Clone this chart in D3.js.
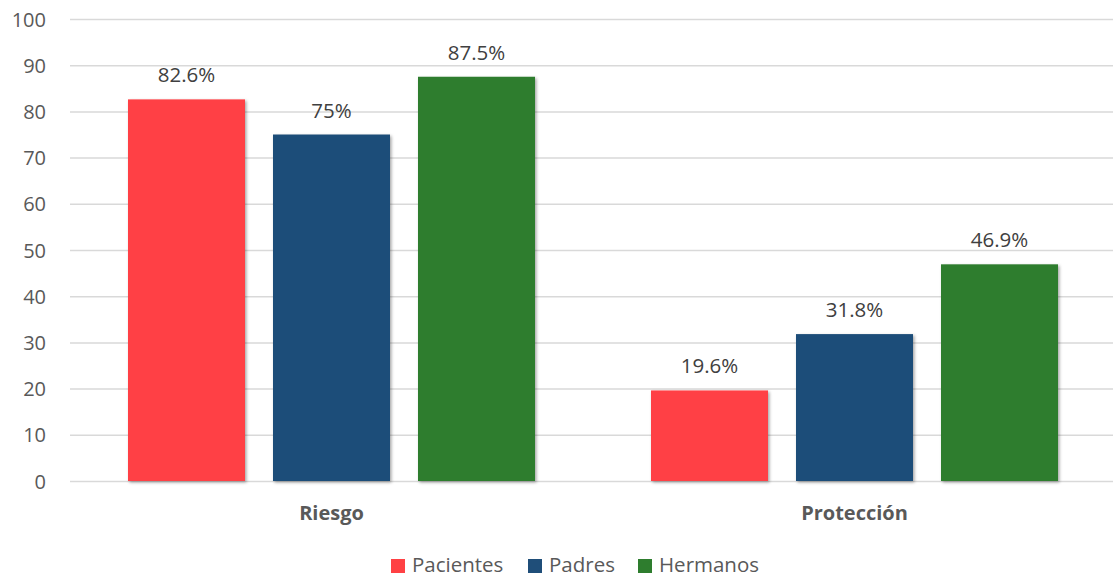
<!DOCTYPE html>
<html>
<head>
<meta charset="utf-8">
<script src="https://cdn.jsdelivr.net/npm/d3@7"></script>
<style>
  html, body { margin: 0; padding: 0; background: #ffffff; }
  svg { display: block; font-family: "Open Sans", sans-serif; }
</style>
</head>
<body>
<svg id="chart" width="1113" height="581"></svg>
<script>
// Chart data
const categories = ["Riesgo", "Protección"];
const seriesNames = ["Pacientes", "Padres", "Hermanos"];
const pacientes = [82.6, 19.6];
const padres = [75, 31.8];
const hermanos = [87.5, 46.9];
const valueLabels = [["82.6%", "19.6%"], ["75%", "31.8%"], ["87.5%", "46.9%"]];
const yTicks = [0, 10, 20, 30, 40, 50, 60, 70, 80, 90, 100];
const colors = ["#FF4144", "#1F4E79", "#2E7D2E"];

const seriesValues = [pacientes, padres, hermanos];

const svg = d3.select("#chart");
const W = 1113, H = 581;
const plot = { left: 70, right: 1116, top: 19, bottom: 481 };

const defs = svg.append("defs");
const shadow = defs.append("filter").attr("id", "barShadow")
  .attr("x", "-10%").attr("y", "-10%").attr("width", "125%").attr("height", "125%");
shadow.append("feDropShadow")
  .attr("dx", 1.5).attr("dy", 1.5).attr("stdDeviation", 1.8)
  .attr("flood-color", "#000").attr("flood-opacity", 0.35);

const x0 = d3.scaleBand().domain(categories).range([plot.left, plot.right]).paddingInner(0).paddingOuter(0);
const x1 = d3.scaleBand().domain(seriesNames).range([58, x0.bandwidth() - 58]).paddingInner(28 / 145).paddingOuter(0);
const y = d3.scaleLinear().domain([0, 100]).range([plot.bottom, plot.top]);

// Horizontal gridlines with value axis labels
const yAxis = d3.axisLeft(y).tickValues(yTicks).tickSize(0).tickPadding(0);
const gy = svg.append("g").attr("transform", `translate(${plot.left},0)`).call(yAxis);
gy.select(".domain").remove();
gy.selectAll(".tick line")
  .attr("x2", W - plot.left)
  .attr("stroke", "#d9d9d9")
  .attr("stroke-width", 1.5);
gy.selectAll(".tick text")
  .attr("x", -24)
  .attr("dy", "0.35em")
  .attr("fill", "#595959")
  .style("font-size", "20px")
  .style("font-family", "'Open Sans', sans-serif");

// Bars
const groups = svg.append("g").selectAll("g")
  .data(categories)
  .join("g")
  .attr("transform", d => `translate(${x0(d)},0)`);

groups.selectAll("rect")
  .data((d, ci) => seriesNames.map((s, si) => ({ s, si, v: seriesValues[si][ci], label: valueLabels[si][ci] })))
  .join("rect")
  .attr("x", d => x1(d.s))
  .attr("y", d => y(d.v))
  .attr("width", x1.bandwidth())
  .attr("height", d => y(0) - y(d.v))
  .attr("fill", d => colors[d.si])
  .attr("filter", "url(#barShadow)");

// Value labels above bars
groups.selectAll("text.val")
  .data((d, ci) => seriesNames.map((s, si) => ({ s, si, v: seriesValues[si][ci], label: valueLabels[si][ci] })))
  .join("text")
  .attr("class", "val")
  .attr("x", d => x1(d.s) + x1.bandwidth() / 2)
  .attr("y", d => y(d.v) - 17)
  .attr("text-anchor", "middle")
  .attr("fill", "#404040")
  .style("font-size", "20.5px")
  .text(d => d.label);

// Category axis
const xAxis = d3.axisBottom(x0).tickSize(0).tickPadding(0);
const gx = svg.append("g").attr("transform", `translate(0,${plot.bottom})`).call(xAxis);
gx.select(".domain").remove();
gx.selectAll(".tick text")
  .attr("y", 39)
  .attr("dy", 0)
  .attr("fill", "#595959")
  .style("font-size", "20px")
  .style("font-weight", "bold")
  .style("font-family", "'Open Sans', sans-serif");

// Legend
const legendItems = [
  { name: seriesNames[0], x: 391 },
  { name: seriesNames[1], x: 528 },
  { name: seriesNames[2], x: 638 }
];
const legend = svg.append("g");
legendItems.forEach((d, i) => {
  legend.append("rect")
    .attr("x", d.x).attr("y", 559)
    .attr("width", 14).attr("height", 14)
    .attr("fill", colors[i]);
  legend.append("text")
    .attr("x", d.x + 21).attr("y", 572)
    .attr("fill", "#595959")
    .style("font-size", "20.5px")
    .text(d.name);
});
</script>
</body>
</html>
